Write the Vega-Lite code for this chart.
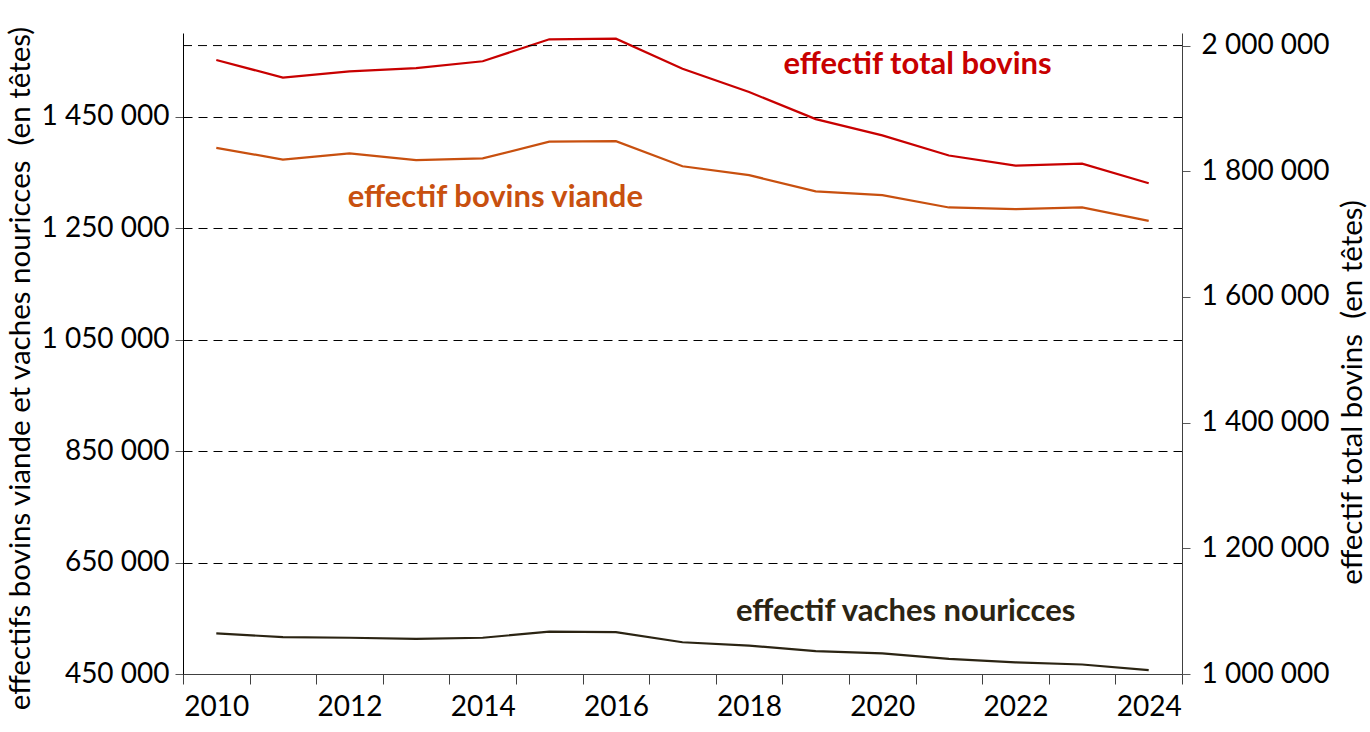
{
  "$schema": "https://vega.github.io/schema/vega-lite/v6.json",
  "width": 999,
  "height": 641,
  "autosize": "none",
  "padding": {"left": 183, "top": 33, "right": 188, "bottom": 58},
  "config": {
    "font": "Lato",
    "view": {"stroke": null},
    "axis": {
      "labelFont": "Lato",
      "titleFont": "Lato",
      "labelColor": "#000000",
      "titleColor": "#000000",
      "titleFontWeight": "normal",
      "labelFontSize": 28,
      "titleFontSize": 29.5
    },
    "axisX": {
      "labelExpr": "(datum.value - 0.5) % 2 == 0 ? '' + (datum.value - 0.5) : ''",
      "labelOffset": -33.3,
      "labelFlush": false,
      "labelOverlap": false,
      "labelBound": false,
      "labelPadding": 9,
      "tickSize": 10,
      "tickColor": "#404040",
      "domainColor": "#404040",
      "grid": false
    }
  },
  "datasets": {
    "effectifs": [
      {"annee": 2010, "serie": "total", "valeur": 1977000},
      {"annee": 2011, "serie": "total", "valeur": 1949000},
      {"annee": 2012, "serie": "total", "valeur": 1959000},
      {"annee": 2013, "serie": "total", "valeur": 1964000},
      {"annee": 2014, "serie": "total", "valeur": 1975000},
      {"annee": 2015, "serie": "total", "valeur": 2010000},
      {"annee": 2016, "serie": "total", "valeur": 2011000},
      {"annee": 2017, "serie": "total", "valeur": 1963000},
      {"annee": 2018, "serie": "total", "valeur": 1926000},
      {"annee": 2019, "serie": "total", "valeur": 1883000},
      {"annee": 2020, "serie": "total", "valeur": 1857000},
      {"annee": 2021, "serie": "total", "valeur": 1825000},
      {"annee": 2022, "serie": "total", "valeur": 1809000},
      {"annee": 2023, "serie": "total", "valeur": 1812000},
      {"annee": 2024, "serie": "total", "valeur": 1781000},
      {"annee": 2010, "serie": "viande", "valeur": 1394000},
      {"annee": 2011, "serie": "viande", "valeur": 1373000},
      {"annee": 2012, "serie": "viande", "valeur": 1384000},
      {"annee": 2013, "serie": "viande", "valeur": 1372000},
      {"annee": 2014, "serie": "viande", "valeur": 1375000},
      {"annee": 2015, "serie": "viande", "valeur": 1405000},
      {"annee": 2016, "serie": "viande", "valeur": 1406000},
      {"annee": 2017, "serie": "viande", "valeur": 1361000},
      {"annee": 2018, "serie": "viande", "valeur": 1345000},
      {"annee": 2019, "serie": "viande", "valeur": 1316000},
      {"annee": 2020, "serie": "viande", "valeur": 1309000},
      {"annee": 2021, "serie": "viande", "valeur": 1287000},
      {"annee": 2022, "serie": "viande", "valeur": 1284000},
      {"annee": 2023, "serie": "viande", "valeur": 1287000},
      {"annee": 2024, "serie": "viande", "valeur": 1263000},
      {"annee": 2010, "serie": "vaches", "valeur": 523000},
      {"annee": 2011, "serie": "vaches", "valeur": 516000},
      {"annee": 2012, "serie": "vaches", "valeur": 515000},
      {"annee": 2013, "serie": "vaches", "valeur": 513000},
      {"annee": 2014, "serie": "vaches", "valeur": 515000},
      {"annee": 2015, "serie": "vaches", "valeur": 526000},
      {"annee": 2016, "serie": "vaches", "valeur": 525000},
      {"annee": 2017, "serie": "vaches", "valeur": 507000},
      {"annee": 2018, "serie": "vaches", "valeur": 501000},
      {"annee": 2019, "serie": "vaches", "valeur": 491000},
      {"annee": 2020, "serie": "vaches", "valeur": 487000},
      {"annee": 2021, "serie": "vaches", "valeur": 477000},
      {"annee": 2022, "serie": "vaches", "valeur": 471000},
      {"annee": 2023, "serie": "vaches", "valeur": 467000},
      {"annee": 2024, "serie": "vaches", "valeur": 457000}
    ],
    "etiquettes": [
      {"annee": 2020.53, "serie": "total", "valeur": 1955000, "texte": "effectif total bovins"},
      {"annee": 2014.19, "serie": "viande", "valeur": 1287000, "texte": "effectif bovins viande"},
      {"annee": 2020.35, "serie": "vaches", "valeur": 545000, "texte": "effectif vaches nouricces"}
    ],
    "reference": [
      {"valeur": 2000000}
    ]
  },
  "encoding": {
    "x": {
      "field": "annee",
      "type": "quantitative",
      "title": null,
      "scale": {"domain": [2009.5, 2024.5], "nice": false, "zero": false},
      "axis": {
        "values": [2009.5, 2010.5, 2011.5, 2012.5, 2013.5, 2014.5, 2015.5, 2016.5, 2017.5, 2018.5, 2019.5, 2020.5, 2021.5, 2022.5, 2023.5, 2024.5]
      }
    },
    "color": {
      "field": "serie",
      "type": "nominal",
      "legend": null,
      "scale": {"domain": ["total", "viande", "vaches"], "range": ["#C80000", "#C8500F", "#2B2413"]}
    }
  },
  "layer": [
    {
      "encoding": {
        "y": {
          "field": "valeur",
          "type": "quantitative",
          "title": "effectifs bovins viande et vaches nouricces\u00a0 (en têtes)",
          "scale": {"domain": [450000, 1600000], "nice": false, "zero": false},
          "axis": {
            "orient": "left",
            "values": [450000, 650000, 850000, 1050000, 1250000, 1450000],
            "labelExpr": "replace(replace(format(datum.value, ','), ',', ' '), ',', ' ')",
            "labelOverlap": false,
            "labelPadding": 6,
            "tickSize": 8,
            "tickColor": "#595959",
            "domainColor": "#000000",
            "grid": true,
            "gridColor": "#000000",
            "gridDash": [9, 6],
            "gridWidth": 1,
            "titleAngle": 270,
            "titleAlign": "center",
            "titleBaseline": "middle",
            "titleX": -163,
            "titleY": 335
          }
        }
      },
      "layer": [
        {
          "data": {"name": "effectifs"},
          "transform": [{"filter": "datum.serie != 'total'"}],
          "mark": {"type": "line", "strokeWidth": 2.2},
          "encoding": {"detail": {"field": "serie"}}
        },
        {
          "data": {"name": "etiquettes"},
          "transform": [{"filter": "datum.serie != 'total'"}],
          "mark": {"type": "text", "font": "Lato", "fontWeight": "bold", "fontSize": 31, "align": "center", "baseline": "alphabetic"},
          "encoding": {"text": {"field": "texte"}}
        }
      ]
    },
    {
      "encoding": {
        "y": {
          "field": "valeur",
          "type": "quantitative",
          "title": "effectif total bovins\u00a0 (en têtes)",
          "scale": {"domain": [1000000, 2020000], "nice": false, "zero": false},
          "axis": {
            "orient": "right",
            "values": [1000000, 1200000, 1400000, 1600000, 1800000, 2000000],
            "labelExpr": "replace(replace(format(datum.value, ','), ',', ' '), ',', ' ')",
            "labelOverlap": false,
            "labelPadding": 11,
            "tickSize": 8,
            "tickColor": "#595959",
            "domainColor": "#404040",
            "grid": false,
            "titleAngle": 270,
            "titleAlign": "center",
            "titleBaseline": "middle",
            "titleX": 170,
            "titleY": 359
          }
        }
      },
      "layer": [
        {
          "data": {"name": "effectifs"},
          "transform": [{"filter": "datum.serie == 'total'"}],
          "mark": {"type": "line", "strokeWidth": 2.2}
        },
        {
          "data": {"name": "etiquettes"},
          "transform": [{"filter": "datum.serie == 'total'"}],
          "mark": {"type": "text", "font": "Lato", "fontWeight": "bold", "fontSize": 31, "align": "center", "baseline": "alphabetic"},
          "encoding": {"text": {"field": "texte"}}
        },
        {
          "data": {"name": "reference"},
          "mark": {"type": "rule", "color": "#000000", "strokeWidth": 1, "strokeDash": [9, 6]},
          "encoding": {"x": null, "color": null}
        }
      ]
    }
  ],
  "resolve": {"scale": {"y": "independent"}}
}
